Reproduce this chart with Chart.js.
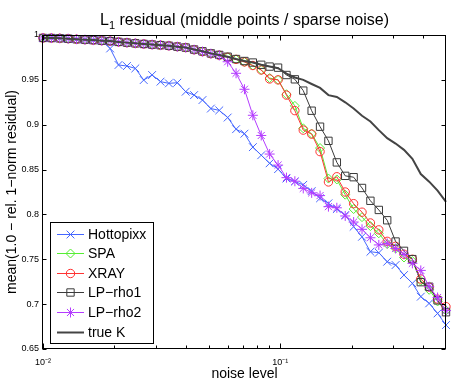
<!DOCTYPE html>
<html>
<head>
<meta charset="utf-8">
<title>L1 residual</title>
<script src="https://cdn.jsdelivr.net/npm/chart.js@4.4.0/dist/chart.umd.min.js"></script>
<style>
  html, body { margin: 0; padding: 0; background: #fff; }
  #wrap { width: 454px; height: 384px; }
</style>
</head>
<body>
<div id="wrap"><canvas id="chart" width="454" height="384"></canvas></div>
<script>
// noise levels (49 points, log spaced 0.01 .. 0.5)
const noiseLevels = [
  0.01, 0.010849, 0.01177, 0.012769, 0.013853, 0.015029, 0.016305, 0.017689, 0.019191, 0.02082,
  0.022588, 0.024505, 0.026586, 0.028843, 0.031291, 0.033948, 0.03683, 0.039957, 0.043349, 0.047029,
  0.051021, 0.055353, 0.060052, 0.06515, 0.070681, 0.076681, 0.083191, 0.090254, 0.097962, 0.10628,
  0.1153, 0.12509, 0.13571, 0.14723, 0.15973, 0.17329, 0.188, 0.20396, 0.22128, 0.24006,
  0.26044, 0.28255, 0.30654, 0.33257, 0.3608, 0.39143, 0.42466, 0.46071, 0.5
];

const hottopixx = [
  0.9967, 0.9966, 0.9963, 0.9959, 0.9953, 0.9948, 0.9943, 0.9937, 0.985, 0.9666,
  0.9654, 0.9628, 0.9498, 0.9554, 0.948, 0.9461, 0.9468, 0.9368, 0.933, 0.9275,
  0.918, 0.916, 0.908, 0.895, 0.89, 0.875, 0.866, 0.857, 0.8505, 0.84,
  0.8366, 0.833, 0.826, 0.818, 0.8124, 0.806, 0.7993, 0.7863, 0.7751, 0.7584,
  0.7573, 0.7473, 0.7436, 0.7324, 0.7232, 0.7083, 0.7009, 0.6897, 0.6767
];

const spa = [
  0.9967, 0.9966, 0.9963, 0.9959, 0.9953, 0.9948, 0.9943, 0.9937, 0.9932, 0.9923,
  0.9915, 0.9907, 0.99, 0.9893, 0.9887, 0.988, 0.987, 0.986, 0.9836, 0.9815,
  0.9792, 0.9775, 0.9752, 0.9728, 0.97, 0.966, 0.961, 0.952, 0.95, 0.934,
  0.921, 0.896, 0.89, 0.874, 0.84, 0.839, 0.822, 0.806, 0.797, 0.787,
  0.779, 0.767, 0.762, 0.752, 0.748, 0.726, 0.716, 0.703, 0.693
];

const xray = [
  0.9967, 0.9966, 0.9963, 0.9959, 0.9953, 0.9948, 0.9943, 0.9937, 0.9932, 0.9923,
  0.9915, 0.9907, 0.99, 0.9893, 0.9887, 0.988, 0.987, 0.986, 0.9836, 0.9815,
  0.9792, 0.9775, 0.9752, 0.9728, 0.97, 0.966, 0.961, 0.951, 0.95, 0.933,
  0.9157, 0.894, 0.8895, 0.87, 0.8362, 0.842, 0.825, 0.812, 0.8025, 0.7905,
  0.7828, 0.77, 0.7645, 0.7556, 0.75, 0.728, 0.719, 0.7056, 0.6972
];

const lpRho1 = [
  0.9967, 0.9966, 0.9963, 0.9959, 0.9953, 0.9948, 0.9943, 0.9937, 0.9932, 0.9923,
  0.9915, 0.9907, 0.99, 0.9893, 0.9887, 0.988, 0.987, 0.986, 0.9838, 0.9818,
  0.9795, 0.9778, 0.9758, 0.9732, 0.971, 0.9693, 0.9668, 0.9648, 0.9636, 0.9554,
  0.9506, 0.938, 0.9156, 0.8978, 0.882, 0.858, 0.843, 0.8415, 0.8295, 0.8152,
  0.805, 0.7935, 0.7698, 0.7594, 0.7502, 0.7245, 0.7194, 0.7042, 0.691
];

const lpRho2 = [
  0.9967, 0.9966, 0.9963, 0.9959, 0.9953, 0.9948, 0.9943, 0.9937, 0.9932, 0.9923,
  0.9915, 0.9907, 0.99, 0.9893, 0.9887, 0.988, 0.987, 0.986, 0.9836, 0.9815,
  0.9792, 0.9772, 0.9702, 0.9573, 0.9395, 0.9105, 0.888, 0.8673, 0.855, 0.841,
  0.837, 0.829, 0.824, 0.821, 0.8087, 0.8074, 0.7983, 0.7915, 0.7834, 0.774,
  0.766, 0.7678, 0.762, 0.7555, 0.7455, 0.7376, 0.7194, 0.7074, 0.6928
];

const trueK = [
  0.9967, 0.9966, 0.9963, 0.9959, 0.9953, 0.9948, 0.9943, 0.9937, 0.9932, 0.9923,
  0.9915, 0.9907, 0.99, 0.9893, 0.9887, 0.988, 0.987, 0.986, 0.9838, 0.9818,
  0.9795, 0.9778, 0.9758, 0.9732, 0.971, 0.9693, 0.9668, 0.9648, 0.963, 0.957,
  0.9526, 0.95, 0.9454, 0.941, 0.933, 0.931, 0.925, 0.918, 0.91, 0.9036,
  0.894, 0.885, 0.879, 0.872, 0.862, 0.845, 0.8365, 0.8266, 0.814
];

const yTicks = [0.65, 0.7, 0.75, 0.8, 0.85, 0.9, 0.95, 1];
const xTicks = [0.01, 0.02, 0.03, 0.04, 0.05, 0.06, 0.07, 0.08, 0.09, 0.1, 0.2, 0.3, 0.4];
const xTickLabels = { 0.01: "10\u207B\u00B2", 0.1: "10\u207B\u00B9" };

const FONT = "'Liberation Sans', Arial, Helvetica, sans-serif";

const pts = (arr) => noiseLevels.map((x, i) => ({ x: x, y: arr[i] }));

const series = [
  { label: "Hottopixx", data: hottopixx, color: "#4466ff", style: "crossRot", r: 5.5, w: 1 },
  { label: "SPA", data: spa, color: "#55ee33", style: "rectRot", r: 4.5, w: 1 },
  { label: "XRAY", data: xray, color: "#ff3333", style: "circle", r: 4.2, w: 1 },
  { label: "LP\u2212rho1", data: lpRho1, color: "#3a3a3a", style: "rect", r: 5.2, w: 1 },
  { label: "LP\u2212rho2", data: lpRho2, color: "#b43cff", style: "star", r: 5, w: 1 },
  { label: "true K", data: trueK, color: "#444444", style: false, r: 0, w: 2 }
];

// matlab-like title with subscript
const titlePlugin = {
  id: "titlePlugin",
  afterDraw(chart) {
    const ctx = chart.ctx;
    const a = chart.chartArea;
    const cx = (a.left + a.right) / 2;
    ctx.save();
    ctx.fillStyle = "#000";
    ctx.textBaseline = "alphabetic";
    ctx.font = "16px " + FONT;
    const wL = ctx.measureText("L").width;
    const rest = " residual (middle points / sparse noise)";
    const wRest = ctx.measureText(rest).width;
    ctx.font = "11px " + FONT;
    const wSub = ctx.measureText("1").width;
    let x = cx - (wL + wSub + wRest) / 2;
    ctx.font = "16px " + FONT;
    ctx.fillText("L", x, 25);
    x += wL;
    ctx.font = "11px " + FONT;
    ctx.fillText("1", x, 28.5);
    x += wSub;
    ctx.font = "16px " + FONT;
    ctx.fillText(rest, x, 25);
    ctx.restore();
  }
};

// box with inward ticks
const framePlugin = {
  id: "framePlugin",
  afterDatasetsDraw(chart) {
    const { ctx, chartArea: a, scales } = chart;
    const L = Math.round(a.left) - 0.5, R = Math.round(a.right) - 0.5;
    const T = Math.round(a.top) + 0.5, B = Math.round(a.bottom) - 0.5;
    ctx.save();
    ctx.strokeStyle = "#000";
    ctx.lineWidth = 1;
    ctx.beginPath();
    xTicks.forEach(v => {
      const px = Math.round(scales.x.getPixelForValue(v)) + 0.5;
      const len = xTickLabels[v] ? 5 : 3;
      ctx.moveTo(px, B); ctx.lineTo(px, B - len);
      ctx.moveTo(px, T); ctx.lineTo(px, T + len);
    });
    yTicks.forEach(v => {
      const py = Math.round(scales.y.getPixelForValue(v)) + 0.5;
      ctx.moveTo(L, py); ctx.lineTo(L + 4, py);
      ctx.moveTo(R, py); ctx.lineTo(R - 4, py);
    });
    ctx.stroke();
    ctx.strokeRect(L, T, R - L, B - T);
    ctx.restore();
  }
};

// legend box inside the axes, lower left
const legendPlugin = {
  id: "legendPlugin",
  afterDraw(chart) {
    const ctx = chart.ctx;
    ctx.save();
    ctx.fillStyle = "#fff";
    ctx.fillRect(51, 222, 103, 121);
    ctx.strokeStyle = "#000";
    ctx.lineWidth = 1;
    ctx.strokeRect(50.5, 222.5, 103, 121);
    series.forEach((s, k) => {
      const y = Math.round(233.5 + k * 19.6) + 0.5;
      ctx.strokeStyle = s.color;
      ctx.lineWidth = s.w;
      ctx.beginPath();
      ctx.moveTo(57, y); ctx.lineTo(84, y);
      ctx.stroke();
      if (s.style) {
        ctx.lineWidth = 1;
        ctx.fillStyle = "rgba(0,0,0,0)";
        Chart.helpers.drawPoint(ctx, { pointStyle: s.style, radius: s.r, borderWidth: 1, rotation: 0 }, 70.5, y);
      }
      ctx.fillStyle = "#000";
      ctx.font = "14px " + FONT;
      ctx.textBaseline = "middle";
      ctx.fillText(s.label, 88, y + 0.5);
    });
    ctx.restore();
  }
};

new Chart(document.getElementById("chart"), {
  type: "line",
  data: {
    datasets: series.map((s, i) => ({
      label: s.label,
      data: pts(s.data),
      borderColor: s.color,
      backgroundColor: s.color,
      borderWidth: s.w,
      pointStyle: s.style,
      pointRadius: s.r,
      pointBorderWidth: 1,
      pointBorderColor: s.color,
      pointBackgroundColor: "rgba(0,0,0,0)",
      tension: 0,
      fill: false,
      clip: false,
      order: series.length - i
    }))
  },
  options: {
    responsive: false,
    animation: false,
    devicePixelRatio: 1,
    layout: { padding: { top: 35, right: 8, left: 0, bottom: 0 } },
    plugins: {
      legend: { display: false },
      tooltip: { enabled: false },
      title: { display: false }
    },
    elements: { point: { hoverRadius: 5 } },
    scales: {
      x: {
        type: "logarithmic",
        min: 0.01,
        max: 0.5,
        grid: { display: false, drawTicks: false },
        border: { display: false },
        afterBuildTicks: (s) => { s.ticks = xTicks.map(v => ({ value: v })); },
        afterFit: (s) => { s.height = 35; },
        ticks: {
          autoSkip: false,
          maxRotation: 0,
          padding: 8,
          color: "#000",
          font: { family: FONT, size: 9 },
          callback: (v) => xTickLabels[v] || ""
        },
        title: {
          display: true,
          text: "noise level",
          color: "#000",
          font: { family: FONT, size: 14 },
          padding: { top: 0, bottom: 1 }
        }
      },
      y: {
        type: "linear",
        min: 0.65,
        max: 1,
        grid: { display: false, drawTicks: false },
        border: { display: false },
        afterBuildTicks: (s) => { s.ticks = yTicks.map(v => ({ value: v })); },
        afterFit: (s) => { s.width = 43; },
        ticks: {
          padding: 4,
          color: "#000",
          font: { family: FONT, size: 9 },
          callback: (v) => String(+v.toFixed(2))
        },
        title: {
          display: true,
          text: "mean(1.0 \u2212 rel. 1\u2212norm residual)",
          color: "#000",
          font: { family: FONT, size: 14 },
          padding: { top: 4, bottom: 0 }
        }
      }
    }
  },
  plugins: [framePlugin, titlePlugin, legendPlugin]
});
</script>
</body>
</html>
